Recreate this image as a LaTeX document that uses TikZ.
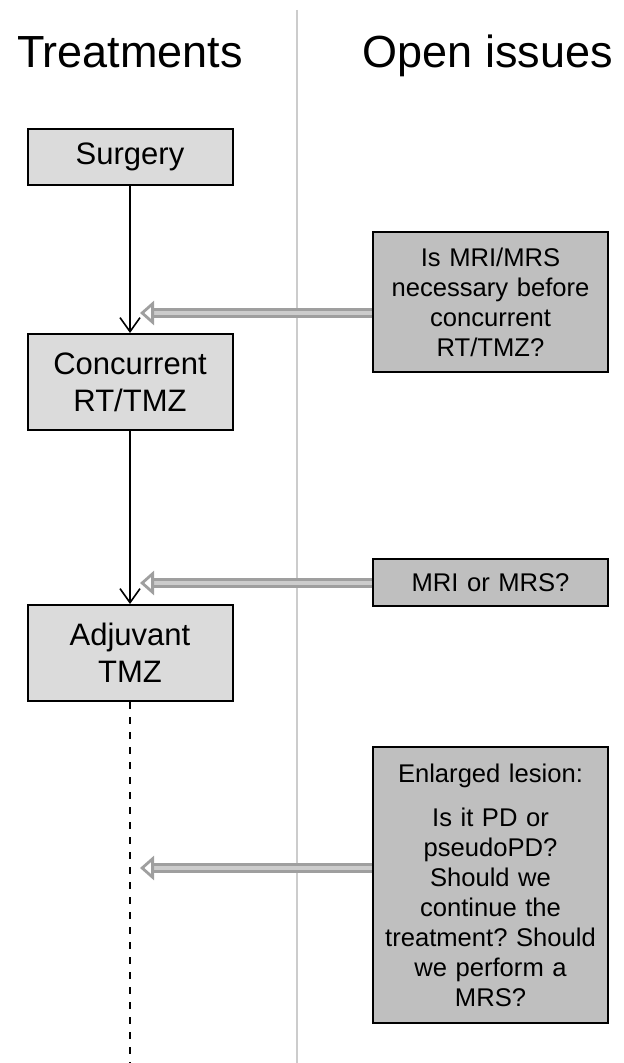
\documentclass[tikz,border=0pt]{standalone}
\usepackage{fontspec}
\setmainfont{Liberation Sans}
\frenchspacing
\usetikzlibrary{arrows.meta,positioning}

\tikzset{
  treat/.style={draw=black, line width=1pt, fill=gray!28, align=center,
    minimum width=102.5pt, inner sep=2pt,
    font=\fontsize{15.5}{18.5}\selectfont},
  issue/.style={draw=black, line width=1pt, fill=gray!50, align=center,
    minimum width=117.5pt, text width=112pt, inner sep=2pt,
    font=\fontsize{12.8}{15}\selectfont},
  heading/.style={anchor=base, font=\fontsize{22.5}{26}\selectfont},
  flow/.style={line width=0.8pt, -{Straight Barb[length=7pt,width=10pt]}},
  later/.style={line width=1pt, dash pattern=on 3.5pt off 4pt},
  ask/.style={draw=gray!75, double=gray!40, line width=1.4pt,
    double distance=1.8pt, -{Triangle[open,length=7pt,width=12pt]}},
}

\begin{document}
\begin{tikzpicture}[x=0.5pt,y=-0.5pt]
\useasboundingbox (0,0) rectangle (624,1063);

% Column headings
\node[heading] (hTreat) at (130,68) {Treatments};
\node[heading] (hOpen) at (488,68) {Open issues};
\draw[gray!40, line width=0.8pt] (297,10) -- (297,1063);

% Treatment steps
\node[treat, minimum height=28pt] (surgery) at (130,157) {Surgery};
\node[treat, minimum height=48pt] (concRT) at (130,382) {Concurrent\\RT/TMZ};
\node[treat, minimum height=48pt] (adjTMZ) at (130,653) {Adjuvant\\TMZ};
\coordinate (tail) at (130,1063);

\draw[flow] (surgery) -- (concRT);
\draw[flow] (concRT) -- (adjTMZ);
\draw[later] (adjTMZ) -- (tail);

% Open issues
\node[issue, minimum height=70pt] (qMRI) at (490.5,302)
  {Is MRI/MRS\\necessary before\\concurrent\\RT/TMZ?};
\node[issue, minimum height=23.5pt] (qMRS) at (490.5,582.5) {MRI or MRS?};
\node[issue, minimum height=138pt] (qPD) at (490.5,885)
  {Enlarged lesion:\\[7pt]Is it PD or\\pseudoPD?\\Should we\\continue the\\treatment? Should\\we perform a\\MRS?};

\coordinate (tipA) at (140,313);
\coordinate (tipB) at (140,583);
\coordinate (tipC) at (140,868);

\draw[ask] (qMRI.west |- tipA) -- (tipA);
\draw[ask] (qMRS.west |- tipB) -- (tipB);
\draw[ask] (qPD.west |- tipC) -- (tipC);
\end{tikzpicture}
\end{document}
